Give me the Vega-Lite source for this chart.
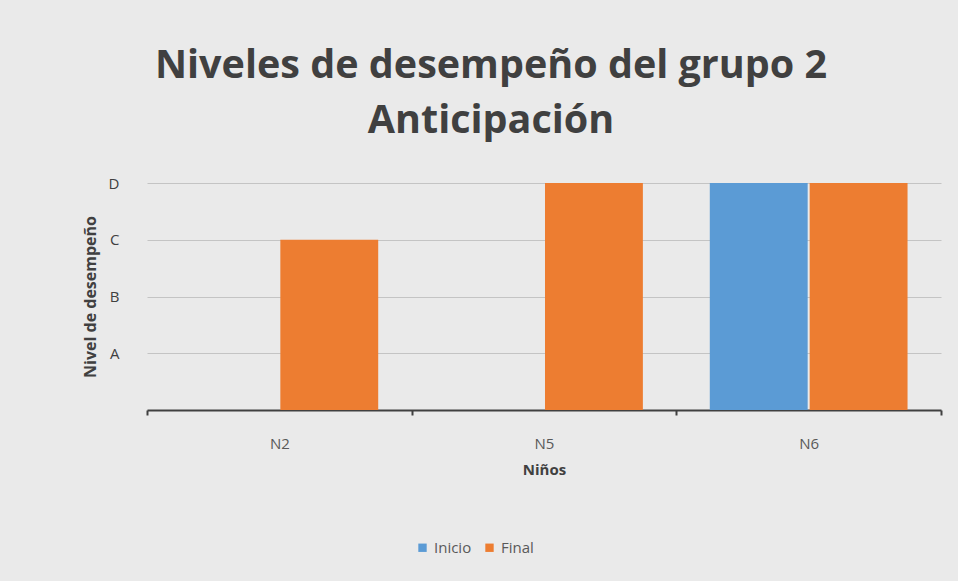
{
  "$schema": "https://vega.github.io/schema/vega-lite/v6.json",
  "autosize": {"type": "none"},
  "width": 794,
  "height": 227,
  "padding": {"left": 147, "top": 183, "right": 17, "bottom": 171},
  "background": "#eaeaea",
  "title": {
    "text": ["Niveles de desempeño del grupo 2", "Anticipación"],
    "font": "Open Sans",
    "fontSize": 39.5,
    "fontWeight": "bold",
    "color": "#404040",
    "anchor": "middle",
    "frame": "group",
    "dx": -53,
    "lineHeight": 55,
    "offset": 35
  },
  "data": {
    "values": [
      {"nino": "N2", "momento": "Inicio", "nivel": 0},
      {"nino": "N2", "momento": "Final", "nivel": 3},
      {"nino": "N5", "momento": "Inicio", "nivel": 0},
      {"nino": "N5", "momento": "Final", "nivel": 4},
      {"nino": "N6", "momento": "Inicio", "nivel": 4},
      {"nino": "N6", "momento": "Final", "nivel": 4}
    ]
  },
  "mark": {"type": "bar"},
  "encoding": {
    "x": {
      "field": "nino",
      "type": "nominal",
      "scale": {"paddingInner": 0, "paddingOuter": 0},
      "axis": {
        "title": "Niños",
        "titleFont": "Open Sans",
        "titleFontSize": 15,
        "titleFontWeight": "bold",
        "titleColor": "#404040",
        "titlePadding": 11,
        "labelFont": "Open Sans",
        "labelFontSize": 15,
        "labelColor": "#595959",
        "labelAngle": 0,
        "labelPadding": 21,
        "domainColor": "#404040",
        "domainWidth": 2,
        "tickColor": "#404040",
        "tickWidth": 2,
        "tickSize": 5,
        "tickBand": "extent",
        "grid": false
      }
    },
    "xOffset": {
      "field": "momento",
      "type": "nominal",
      "sort": ["Inicio", "Final"],
      "scale": {"paddingInner": 0.02, "paddingOuter": 0.335}
    },
    "y": {
      "field": "nivel",
      "type": "quantitative",
      "scale": {"domain": [0, 4], "nice": false},
      "axis": {
        "title": "Nivel de desempeño",
        "titleFont": "Open Sans",
        "titleFontSize": 16,
        "titleFontWeight": "bold",
        "titleColor": "#404040",
        "titlePadding": 10,
        "values": [1, 2, 3, 4],
        "labelExpr": "datum.value == 1 ? 'A' : datum.value == 2 ? 'B' : datum.value == 3 ? 'C' : 'D'",
        "labelFont": "Open Sans",
        "labelFontSize": 15,
        "labelColor": "#404040",
        "labelPadding": 28,
        "ticks": false,
        "domain": false,
        "grid": true,
        "gridColor": "#c4c4c4",
        "gridWidth": 1
      }
    },
    "color": {
      "field": "momento",
      "type": "nominal",
      "sort": ["Inicio", "Final"],
      "scale": {"domain": ["Inicio", "Final"], "range": ["#5b9bd5", "#ed7d31"]},
      "legend": {
        "title": null,
        "orient": "none",
        "direction": "horizontal",
        "legendX": 268,
        "legendY": 357,
        "symbolType": "square",
        "symbolSize": 70,
        "labelFont": "Open Sans",
        "labelFontSize": 15,
        "labelColor": "#595959",
        "columnPadding": 10,
        "labelOffset": 4
      }
    }
  },
  "config": {
    "view": {"stroke": null}
  }
}
